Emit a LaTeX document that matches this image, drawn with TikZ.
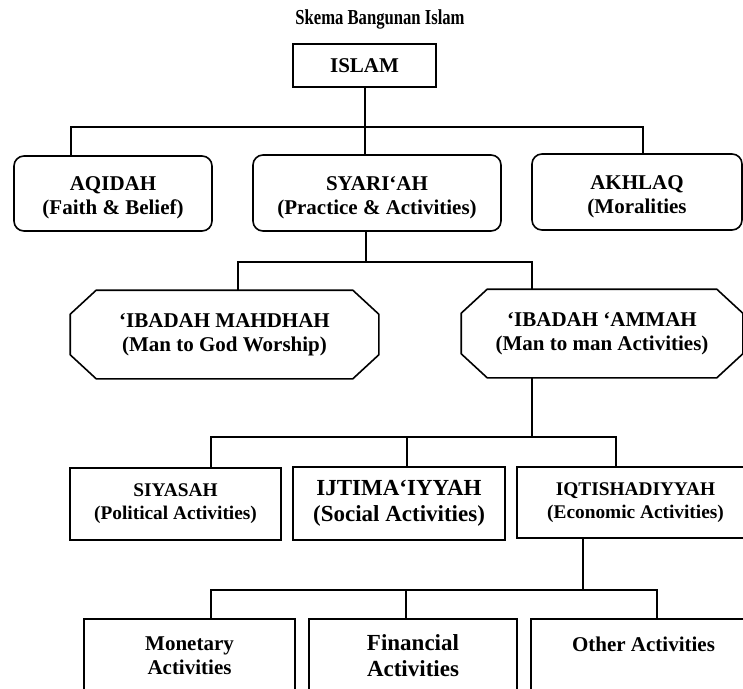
\documentclass[tikz,border=0pt]{standalone}
\usepackage{fontspec}
\usepackage{graphicx}
\setmainfont{Liberation Serif}
\newlength{\pxl}\setlength{\pxl}{0.75pt}
\newcommand{\lowr}{\rule{0pt}{17pt}}
\newcommand{\octpath}[1]{\draw ([xshift=26\pxl]#1.north west) -- ([xshift=-26\pxl]#1.north east) -- ([yshift=-24\pxl]#1.north east) -- ([yshift=24\pxl]#1.south east) -- ([xshift=-26\pxl]#1.south east) -- ([xshift=26\pxl]#1.south west) -- ([yshift=24\pxl]#1.south west) -- ([yshift=-24\pxl]#1.north west) -- cycle;}
\begin{document}
\begin{tikzpicture}[x=0.75pt,y=-0.75pt,line width=1.6\pxl,
  every node/.style={align=center,inner sep=0pt},
  wh/.style 2 args={minimum width=#1\pxl,minimum height=#2\pxl},
  sq/.style={draw,rectangle},
  rnd/.style={draw,rectangle,rounded corners=10\pxl},
  oct/.style={rectangle},
  fa/.style={font=\bfseries\fontsize{15.75}{18}\selectfont},
  fb/.style={font=\bfseries\fontsize{14.5}{17.25}\selectfont},
  fc/.style={font=\bfseries\fontsize{17.25}{19.5}\selectfont},
  ft/.style={font=\bfseries\fontsize{16}{18}\selectfont}]
\useasboundingbox (0,0) rectangle (743,689);
\clip (0,0) rectangle (743,689);
\node[ft] (title) at (380,19) {\scalebox{0.78}[1]{Skema Bangunan Islam}};
\node[sq,fa,wh={143}{43}] (islam) at (364.5,65.5) {ISLAM};
\node[rnd,fa,wh={198}{75}] (aqidah) at (113,193.5) {\lowr AQIDAH\\(Faith \& Belief)};
\node[rnd,fa,wh={248}{76}] (syariah) at (377,193) {\lowr SYARI`AH\\(Practice \& Activities)};
\node[rnd,fa,wh={210}{76}] (akhlaq) at (637,192) {\lowr AKHLAQ\\(Moralities};
\node[oct,fa,wh={307}{87}] (mahdhah) at (224.5,334.5) {`IBADAH MAHDHAH\\(Man to God Worship)};
\node[oct,fa,wh={280}{87}] (ammah) at (602,333.5) {`IBADAH `AMMAH\\(Man to man Activities)};
\octpath{mahdhah}
\octpath{ammah}
\node[sq,fb,wh={211}{72}] (siyasah) at (175.5,504) {SIYASAH\\(Political Activities)};
\node[sq,fc,wh={212}{73}] (ijtima) at (399,503.5) {IJTIMA`IYYAH\\(Social Activities)};
\node[sq,fb,wh={237}{71}] (iqti) at (635.5,502.5) {IQTISHADIYYAH\\(Economic Activities)};
\node[sq,fa,wh={211}{74}] (monetary) at (189.5,656) {Monetary\\Activities};
\node[sq,fc,wh={208}{74}] (financial) at (413,656) {Financial\\Activities};
\node[sq,fa,wh={225}{74}] (other) at (643.5,656) {Other Activities\\\mbox{}};
% level 1-2
\coordinate (b1) at (71,127);
\coordinate (b2) at (643,127);
\coordinate (b0) at (365,127);
\draw (islam.south -| b0) -- (syariah.north -| b0);
\draw (aqidah.north -| b1) -- (b1) -- (b2) -- (akhlaq.north -| b2);
% level 2-3
\coordinate (c1) at (238,262);
\coordinate (c2) at (532,262);
\coordinate (c0) at (366,262);
\draw (syariah.south -| c0) -- (c0);
\draw (mahdhah.north -| c1) -- (c1) -- (c2) -- (ammah.north -| c2);
% level 3-4
\coordinate (d1) at (211,437);
\coordinate (d2) at (407,437);
\coordinate (d3) at (616,437);
\coordinate (d0) at (532,437);
\draw (ammah.south -| d0) -- (d0);
\draw (siyasah.north -| d1) -- (d1) -- (d3) -- (iqti.north -| d3);
\draw (d2) -- (ijtima.north -| d2);
% level 4-5
\coordinate (e1) at (211,590);
\coordinate (e2) at (406,590);
\coordinate (e3) at (657,590);
\coordinate (e0) at (583,590);
\draw (iqti.south -| e0) -- (e0);
\draw (monetary.north -| e1) -- (e1) -- (e3) -- (other.north -| e3);
\draw (e2) -- (financial.north -| e2);
\end{tikzpicture}
\end{document}
